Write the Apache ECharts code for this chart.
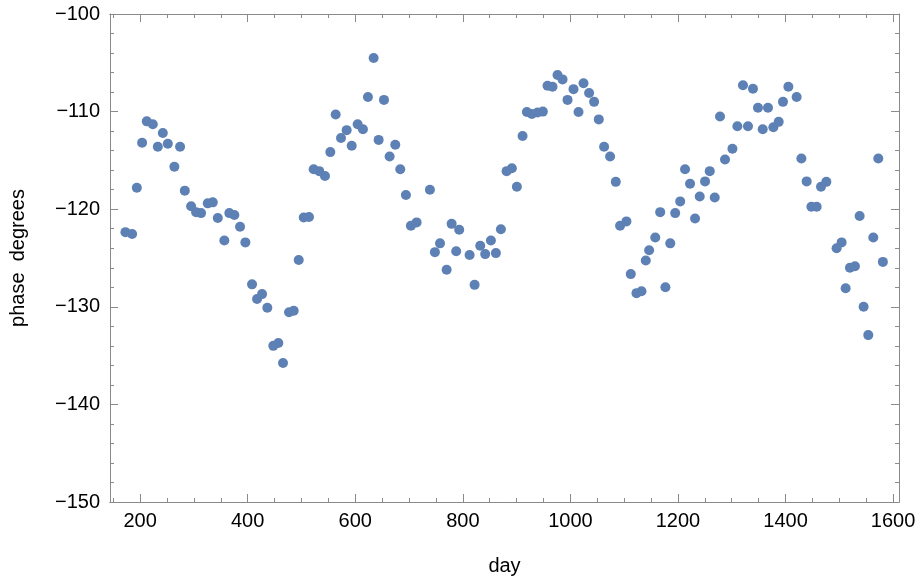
<!DOCTYPE html>
<html><head><meta charset="utf-8">
<script src="https://cdn.jsdelivr.net/npm/echarts@6/dist/echarts.min.js"></script>
<style>html,body{margin:0;padding:0;background:#fff}#c{width:921px;height:585px}</style>
</head><body><div id="c"></div>
<script>
const days = [172.7,185.1,193.9,203.7,212.4,223.6,232.9,242.2,251.5,263.7,274.3,283.1,294.8,304.1,313.3,325.8,335.1,344.4,356.6,365.9,375.2,385.8,395.7,408.1,417.4,426.7,436.5,447.7,457.0,465.7,476.9,485.6,494.9,504.2,514.0,522.7,533.1,543.7,553.6,563.6,573.5,584.0,593.4,604.5,614.3,623.6,634.2,643.5,653.4,663.9,674.4,683.7,694.2,703.5,714.1,738.8,748.1,757.6,769.9,779.2,787.7,793.3,812.6,821.9,832.4,841.6,852.2,861.5,870.8,881.4,891.2,900.5,911.1,919.1,928.4,939.0,948.8,957.5,966.8,976.1,985.4,994.7,1005.8,1015.1,1024.4,1034.8,1044.1,1052.8,1062.7,1073.8,1084.4,1092.4,1104.2,1112.3,1122.9,1132.2,1140.2,1146.4,1157.8,1167.0,1176.7,1185.7,1194.9,1204.2,1213.2,1222.5,1231.8,1240.5,1250.4,1259.1,1268.4,1278.2,1287.5,1301.3,1310.5,1320.9,1330.2,1339.5,1348.8,1357.6,1367.4,1377.4,1387.3,1395.3,1405.3,1420.7,1429.5,1439.3,1448.1,1457.9,1466.0,1475.9,1495.0,1504.3,1511.8,1519.8,1529.1,1537.8,1545.2,1553.9,1563.2,1572.5,1581.0];
const phases = [-122.35,-122.55,-117.8,-113.2,-111.0,-111.3,-113.6,-112.2,-113.3,-115.65,-113.6,-118.1,-119.7,-120.3,-120.4,-119.4,-119.3,-120.9,-123.2,-120.4,-120.6,-121.8,-123.4,-127.7,-129.2,-128.7,-130.1,-134.0,-133.7,-135.75,-130.55,-130.4,-125.2,-120.85,-120.8,-115.9,-116.1,-116.6,-114.15,-110.3,-112.7,-111.9,-113.5,-111.3,-111.8,-108.5,-104.5,-112.9,-108.8,-114.6,-113.4,-115.9,-118.55,-121.7,-121.35,-118.0,-124.4,-123.5,-126.2,-121.5,-124.3,-122.1,-124.7,-127.75,-123.75,-124.6,-123.2,-124.5,-122.05,-116.1,-115.8,-117.7,-112.5,-110.05,-110.25,-110.1,-110.0,-107.35,-107.45,-106.25,-106.7,-108.8,-107.7,-110.05,-107.1,-108.1,-109.0,-110.8,-113.6,-114.6,-117.2,-121.7,-121.25,-126.65,-128.6,-128.4,-125.25,-124.2,-122.9,-120.3,-128.0,-123.5,-120.4,-119.2,-115.9,-117.4,-120.95,-118.7,-117.15,-116.1,-118.8,-110.5,-114.9,-113.8,-111.5,-107.3,-111.5,-107.65,-109.6,-111.8,-109.6,-111.6,-111.05,-109.0,-107.45,-108.5,-114.8,-117.15,-119.75,-119.75,-117.7,-117.2,-124.0,-123.4,-128.1,-126.0,-125.85,-120.7,-130.0,-132.9,-122.9,-114.8,-125.4];
const xMajorTicks = [200,400,600,800,1000,1200,1400,1600];
const xMinorTicks = [150,250,300,350,450,500,550,650,700,750,850,900,950,1050,1100,1150,1250,1300,1350,1450,1500,1550];
const yMajorTicks = [-150,-140,-130,-120,-110,-100];
const xName = 'day';
const yName = 'phase  degrees';

const FONT = "'Liberation Sans', Arial, sans-serif";
const FRAME = '#8a8a8a';
const XMIN = 144, XMAX = 1611, YMIN = -150, YMAX = -100;
const minus = v => String(v).replace('-', '\u2212');

function xAx(pos, ticks, len, withLabel) {
  const a = {
    type: 'value', position: pos, min: XMIN, max: XMAX,
    axisLine: { show: true, onZero: false, lineStyle: { color: FRAME, width: 1 } },
    axisTick: { show: true, inside: true, length: len, customValues: ticks, lineStyle: { color: FRAME, width: 1 } },
    axisLabel: { show: withLabel, customValues: xMajorTicks, formatter: v => String(v), fontSize: 20, color: '#000', fontFamily: FONT, margin: 9 },
    splitLine: { show: false }
  };
  if (withLabel) {
    a.name = xName; a.nameLocation = 'middle'; a.nameGap = 54;
    a.nameTextStyle = { fontSize: 20, color: '#000', fontFamily: FONT };
  }
  return a;
}
function yAx(pos, withLabel) {
  const a = {
    type: 'value', position: pos, min: YMIN, max: YMAX, interval: 10,
    axisLine: { show: true, onZero: false, lineStyle: { color: FRAME, width: 1 } },
    axisTick: { show: true, inside: true, length: 8, lineStyle: { color: FRAME, width: 1 } },
    minorTick: { show: true, splitNumber: 5, length: 4, lineStyle: { color: FRAME, width: 1 } },
    axisLabel: { show: withLabel, formatter: minus, fontSize: 20, color: '#000', fontFamily: FONT, margin: 10 },
    splitLine: { show: false }
  };
  if (withLabel) {
    a.name = yName; a.nameLocation = 'middle'; a.nameGap = 82; a.nameRotate = 90;
    a.nameTextStyle = { fontSize: 20, color: '#000', fontFamily: FONT };
  }
  return a;
}

const chart = echarts.init(document.getElementById('c'), null, { renderer: 'canvas' });
chart.setOption({
  animation: false,
  backgroundColor: '#fff',
  grid: { left: 109, right: 22, top: 14, bottom: 83, containLabel: false },
  xAxis: [
    xAx('bottom', xMajorTicks, 8, true),
    xAx('bottom', xMinorTicks, 4, false),
    xAx('top', xMajorTicks, 8, false),
    xAx('top', xMinorTicks, 4, false)
  ],
  yAxis: [yAx('left', true), yAx('right', false)],
  series: [{
    type: 'scatter', xAxisIndex: 0, yAxisIndex: 0,
    symbol: 'circle', symbolSize: 10,
    itemStyle: { color: '#5E81B5', opacity: 1 },
    data: days.map((d, i) => [d, phases[i]])
  }]
});
</script>
</body></html>
